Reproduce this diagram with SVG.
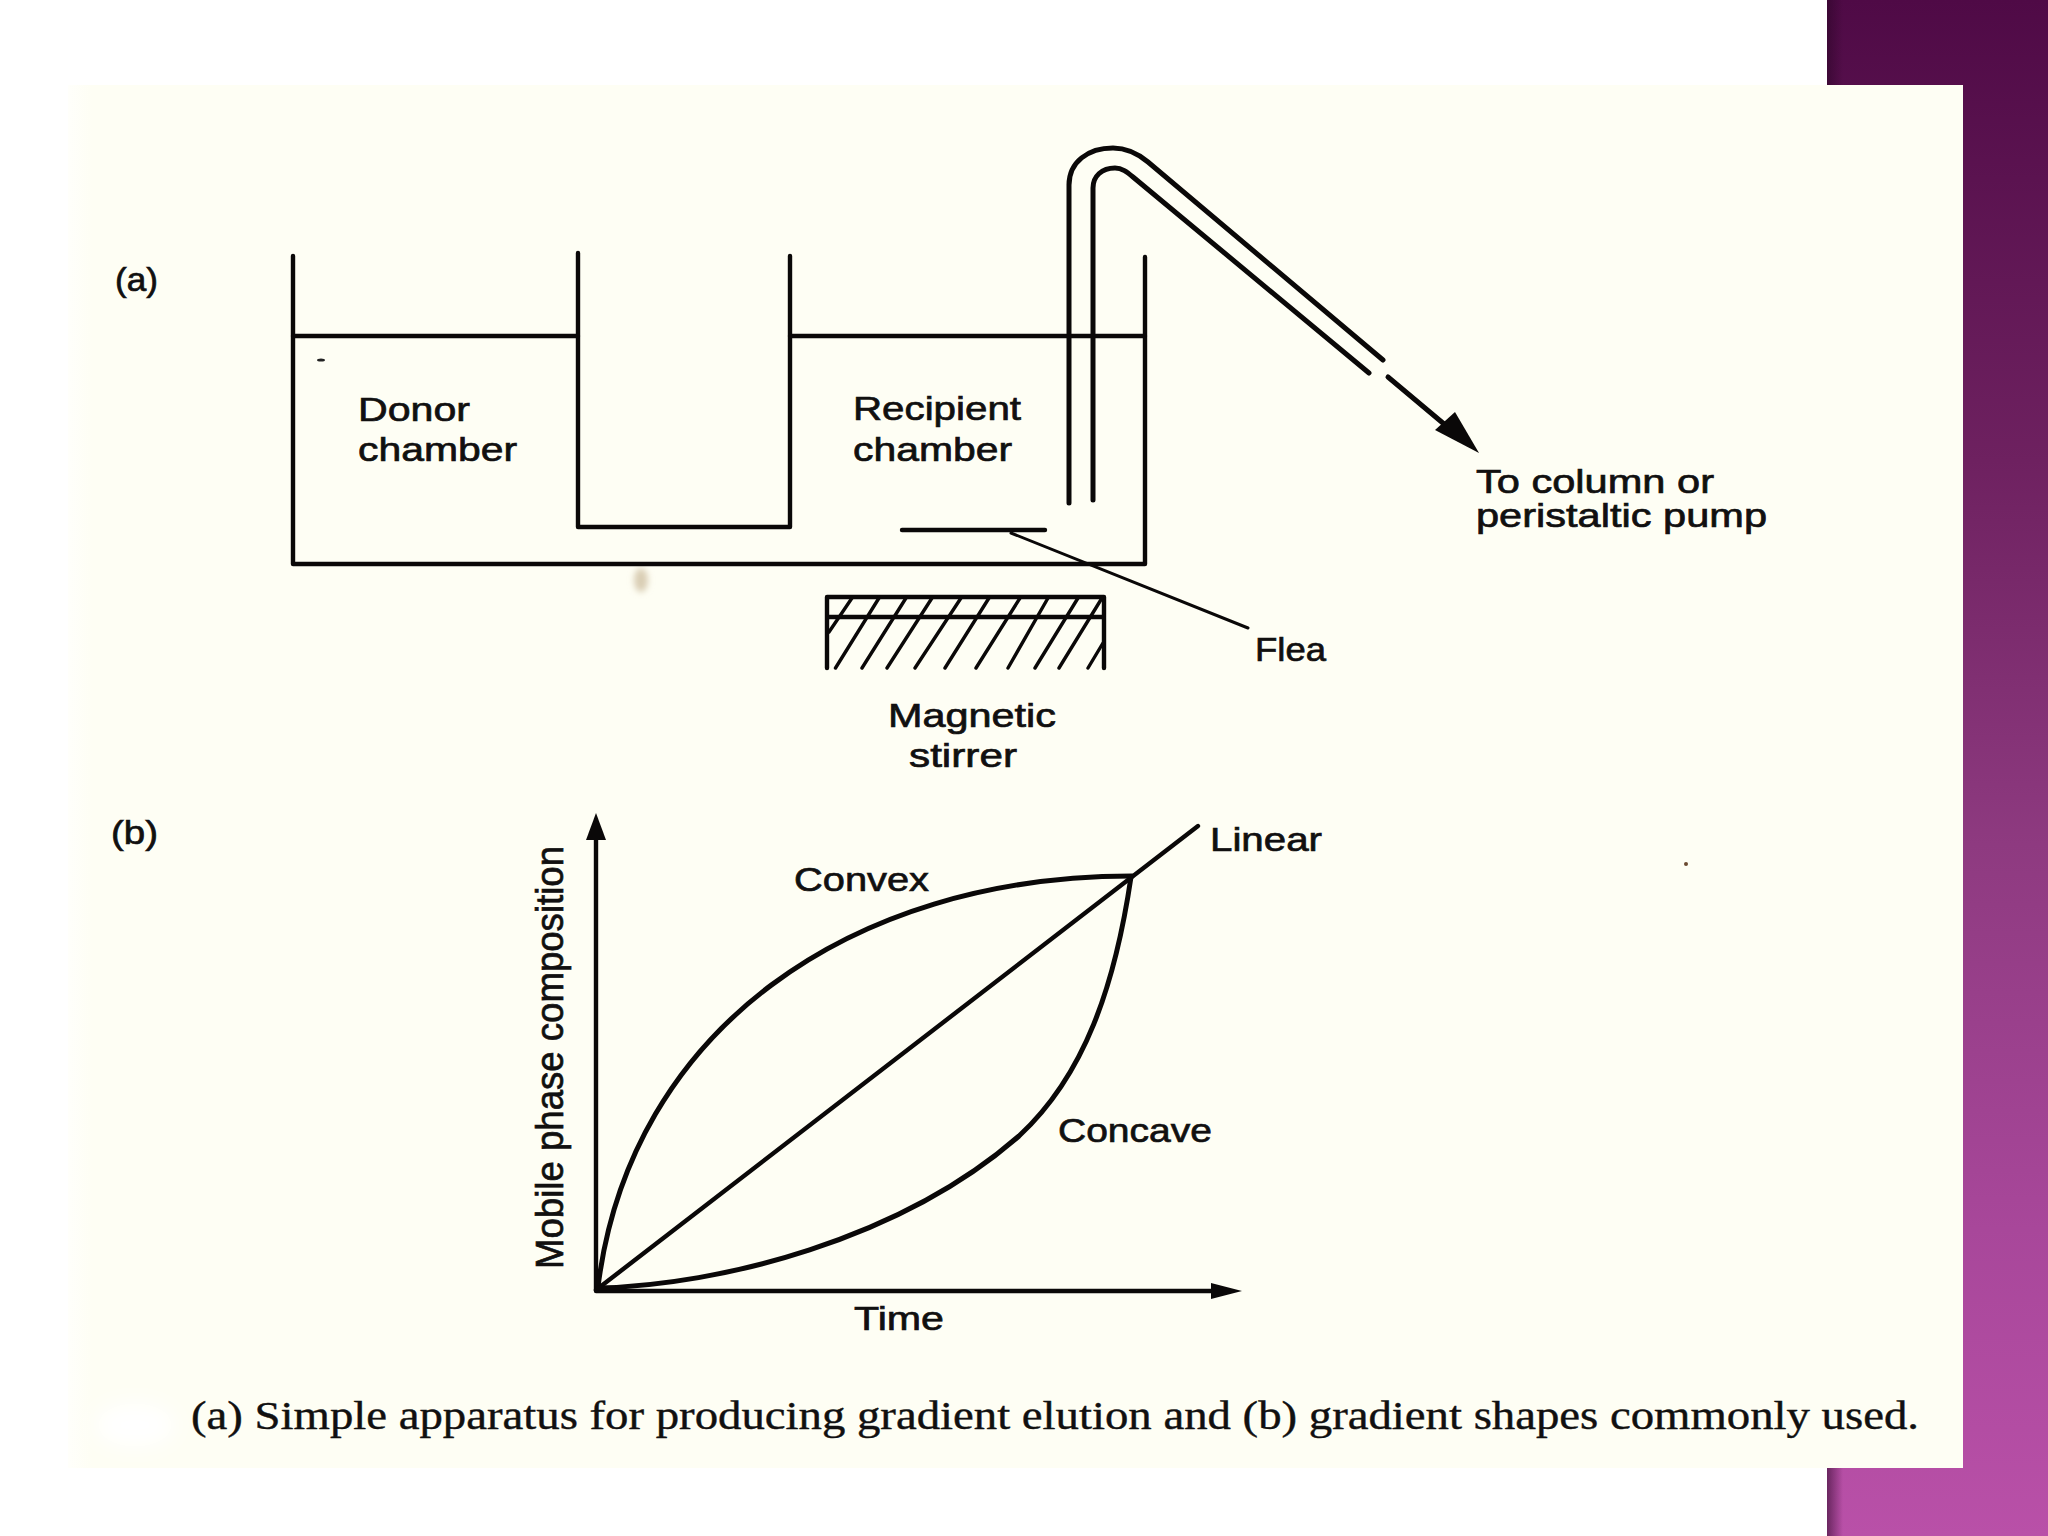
<svg xmlns="http://www.w3.org/2000/svg" width="2048" height="1536" viewBox="0 0 2048 1536">
<style>
.l{fill:none;stroke:#0a0808;stroke-width:4.4;stroke-linecap:round;stroke-linejoin:round}
.t{stroke-width:5}
.h{stroke-width:3.4}
.s{stroke-width:3}
.a{fill:#0a0808;stroke:none}
text{font-family:"Liberation Sans",Arial,sans-serif;font-size:34px;fill:#111010;stroke:#111010;stroke-width:.7}
.c{font-family:"Liberation Serif","Times New Roman",serif;font-size:39px;stroke-width:.4}
.m{font-size:38px}
</style>
<defs>
<linearGradient id="panel" x1="0" y1="0" x2="0" y2="1">
<stop offset="0" stop-color="#4f0a46"/><stop offset=".3" stop-color="#6e2160"/><stop offset=".55" stop-color="#8e3a80"/><stop offset=".8" stop-color="#a8479a"/><stop offset="1" stop-color="#b950a8"/>
</linearGradient>
<linearGradient id="shade" x1="0" y1="0" x2="1" y2="0">
<stop offset="0" stop-color="#2a0526" stop-opacity=".55"/><stop offset="1" stop-color="#2a0526" stop-opacity="0"/>
</linearGradient>
<linearGradient id="paperEdge" x1="0" y1="0" x2="1" y2="0">
<stop offset="0" stop-color="#fffffb"/><stop offset="1" stop-color="#fefef4"/>
</linearGradient>
<filter id="blur" x="-50%" y="-50%" width="200%" height="200%"><feGaussianBlur stdDeviation="10"/></filter>
<filter id="blur2" x="-100%" y="-100%" width="300%" height="300%"><feGaussianBlur stdDeviation="3"/></filter>
</defs>
<rect width="2048" height="1536" fill="#ffffff"/>
<g id="panel-bg">
<rect x="1827" y="0" width="221" height="1536" fill="url(#panel)"/>
<rect x="1827" y="0" width="16" height="1536" fill="url(#shade)"/>
</g>
<g id="paper">
<rect x="68" y="85" width="1895" height="1383" fill="#fefef4"/>
<rect x="68" y="85" width="24" height="1383" fill="url(#paperEdge)"/>
<ellipse cx="135" cy="1425" rx="40" ry="22" fill="#ffffff" filter="url(#blur)"/>
<ellipse cx="641" cy="580" rx="7" ry="12" fill="#d9cdb4" filter="url(#blur2)"/>
<ellipse cx="321" cy="360" rx="4" ry="1.6" fill="#222"/>
<circle cx="1686" cy="864" r="2" fill="#6b4a30"/>
</g>
<g id="chambers">
<path class="l" d="M293 256V564H1145V257"/>
<path class="l" d="M578 253V527H790V256"/>
<path class="l" d="M293 336H578M790 336H1145"/>
</g>
<g id="tube">
<path class="l t" d="M1069 503V185C1069 162 1088 148 1113 148C1125 148 1136 152 1148 162L1383 360"/>
<path class="l t" d="M1093 500V188C1093 176 1102 168 1115 168C1122 168 1127 172 1133 177L1369 373"/>
<path class="l t" d="M1388 377L1450 429"/>
<polygon class="a" points="1479,453 1435,430 1455,412"/>
</g>
<g id="flea">
<path class="l" d="M902 530H1045"/>
<path class="l s" d="M1011 533L1248 628"/>
</g>
<g id="stirrer">
<path class="l" d="M827 668V597H1104V668M827 617H1104"/>
<path class="l h" d="M835.500 668L879 598M862 668L906 598M887 668L932 598M915 668L961 598M945 668L989 598M976 668L1020 598M1008 668L1048 598M1035 668L1078 598M1059 668L1102 598M1088 668L1103 643M829 632L852 598"/>
</g>
<g id="chart">
<path class="l" d="M596 1291V835M596 1291H1215"/>
<polygon class="a" points="596,813 586,840 606,840"/>
<polygon class="a" points="1242,1291 1211,1283 1211,1299"/>
<path class="l" d="M596 1290L1198 826"/>
<path class="l t" d="M598 1287C630 1030 850 876 1132 876"/>
<path class="l t" d="M598 1288C720 1285 900 1240 1019 1136C1085 1075 1115 985 1131 877"/>
</g>
<g id="labels">
<text x="115" y="291" textLength="43" lengthAdjust="spacingAndGlyphs">(a)</text>
<text x="111" y="844" textLength="47" lengthAdjust="spacingAndGlyphs">(b)</text>
<text x="358" y="421" textLength="112" lengthAdjust="spacingAndGlyphs">Donor</text>
<text x="358" y="461" textLength="159" lengthAdjust="spacingAndGlyphs">chamber</text>
<text x="853" y="420" textLength="168" lengthAdjust="spacingAndGlyphs">Recipient</text>
<text x="853" y="461" textLength="159" lengthAdjust="spacingAndGlyphs">chamber</text>
<text x="1476" y="493" textLength="238" lengthAdjust="spacingAndGlyphs">To column or</text>
<text x="1476" y="527" textLength="291" lengthAdjust="spacingAndGlyphs">peristaltic pump</text>
<text x="1255" y="661" textLength="71" lengthAdjust="spacingAndGlyphs">Flea</text>
<text x="888" y="727" textLength="168" lengthAdjust="spacingAndGlyphs">Magnetic</text>
<text x="909" y="767" textLength="108" lengthAdjust="spacingAndGlyphs">stirrer</text>
<text x="1210" y="851" textLength="112" lengthAdjust="spacingAndGlyphs">Linear</text>
<text x="794" y="891" textLength="135" lengthAdjust="spacingAndGlyphs">Convex</text>
<text x="1058" y="1142" textLength="154" lengthAdjust="spacingAndGlyphs">Concave</text>
<text x="854" y="1330" textLength="90" lengthAdjust="spacingAndGlyphs">Time</text>
<text class="m" transform="translate(563 1269) rotate(-90)" textLength="423" lengthAdjust="spacingAndGlyphs">Mobile phase composition</text>
<text class="c" x="191" y="1429" textLength="1728" lengthAdjust="spacingAndGlyphs">(a) Simple apparatus for producing gradient elution and (b) gradient shapes commonly used.</text>
</g>
</svg>
